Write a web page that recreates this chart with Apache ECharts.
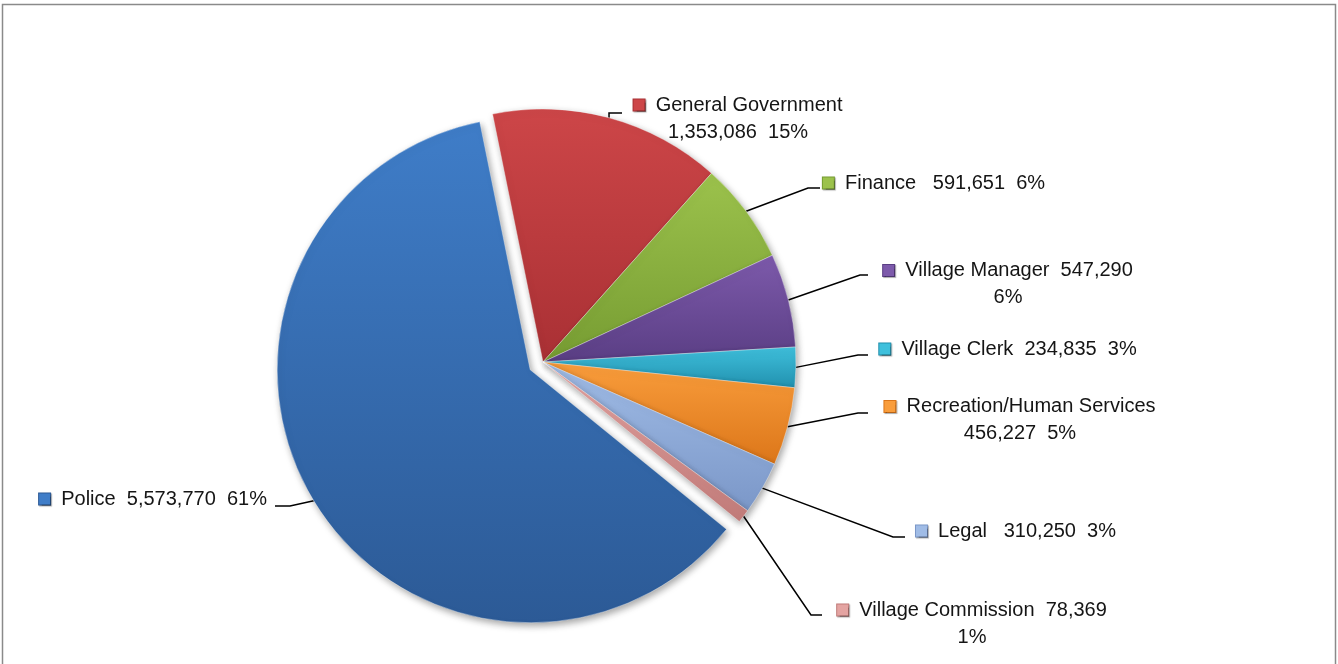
<!DOCTYPE html>
<html>
<head>
<meta charset="utf-8">
<title>General Fund Expenditures by Department</title>
<script src="https://cdn.jsdelivr.net/npm/echarts@6/dist/echarts.min.js"></script>
<style>
  html, body { margin: 0; padding: 0; background: #ffffff; }
  #chart { width: 1338px; height: 664px; }
</style>
</head>
<body>
<div id="chart"></div>
<script>
// Departments, clockwise from the first slice
const departments = [
  'General Government', 'Finance', 'Village Manager', 'Village Clerk',
  'Recreation/Human Services', 'Legal', 'Village Commission', 'Police'
];
const budgets = [1353086, 591651, 547290, 234835, 456227, 310250, 78369, 5573770];

// Which slice is pulled out of the pie
const explodedIndex = 7;

// ---- styling ----
const palette = [
  ['#cd4648', '#a93034'],
  ['#9cc24c', '#769c32'],
  ['#7d5aab', '#5a3e84'],
  ['#3fc0dc', '#2190ae'],
  ['#f99d3c', '#dc7619'],
  ['#a0bce6', '#7b97c8'],
  ['#e4a4a2', '#c17b79'],
  ['#3f7dc8', '#2c5a96']
];
// text layout of each label: 'n|vp' name / value pct, 'nv|p' name value / pct, 'one' single line
const labelBreaks = ['n|vp', 'one', 'nv|p', 'one', 'n|vp', 'one', 'nv|p', 'one'];
const nameGap = ['  ', '   ', '  ', '  ', '  ', '   ', '  ', '  '];
// label placement: [centre x, middle y, elbow x, elbow y, line end x]
const labelSpots = [
  [738, 118.5, 609, 113, 622],
  [934, 183, 808, 188, 820],
  [1008, 284, 860, 275, 868],
  [1008, 349, 858, 355, 868],
  [1020, 420, 858, 413, 868],
  [1016, 531, 893, 537, 905],
  [972, 623.5, 811, 615, 822],
  [153, 499, 290, 506, 275]
];

const CX = 543, CY = 362, R = 253;
const START = -11.5;          // degrees clockwise from 12 o'clock
const EXPLODE = 15;           // px

const total = budgets.reduce((a, b) => a + b, 0);
const midAngles = [];
{
  let acc = 0;
  budgets.forEach(v => {
    midAngles.push((START + (acc + v / 2) / total * 360) * Math.PI / 180);
    acc += v;
  });
}
const exDx = Math.sin(midAngles[explodedIndex]) * EXPLODE;
const exDy = -Math.cos(midAngles[explodedIndex]) * EXPLODE;

const fmt = n => n.toLocaleString('en-US');

const rich = {};
palette.forEach((c, i) => {
  rich['s' + i] = {
    width: 11, height: 11,
    backgroundColor: c[0],
    borderColor: c[1], borderWidth: 1,
    shadowColor: 'rgba(0,0,0,0.3)', shadowBlur: 1, shadowOffsetX: 1, shadowOffsetY: 1
  };
});

function labelText(p) {
  const i = p.dataIndex;
  const pct = Math.round(p.percent) + '%';
  const sq = '{s' + i + '|}  ';
  const v = fmt(p.value);
  switch (labelBreaks[i]) {
    case 'n|vp': return sq + p.name + '\n' + v + '  ' + pct;
    case 'nv|p': return sq + p.name + nameGap[i] + v + '\n' + pct;
    default: return sq + p.name + nameGap[i] + v + '  ' + pct;
  }
}

function layoutLabel(p, shifted) {
  const i = p.dataIndex;
  const s = labelSpots[i];
  const a = midAngles[i];
  const sx = CX + R * Math.sin(a) + (shifted ? exDx : 0);
  const sy = CY - R * Math.cos(a) + (shifted ? exDy : 0);
  return {
    x: s[0], y: s[1], align: 'center', verticalAlign: 'middle',
    labelLinePoints: [[sx, sy], [s[2], s[3]], [s[4], s[3]]]
  };
}

function sliceData(showIdx) {
  return departments.map((name, i) => {
    const visible = showIdx(i);
    const c = palette[i];
    return {
      name, value: budgets[i],
      itemStyle: visible ? {
        color: { type: 'linear', x: 0, y: 0, x2: 0, y2: 1,
          colorStops: [{ offset: 0, color: c[0] }, { offset: 1, color: c[1] }] },
        borderColor: 'rgba(255,255,255,0.35)', borderWidth: 1,
        shadowBlur: 7, shadowOffsetX: 2, shadowOffsetY: 3, shadowColor: 'rgba(0,0,0,0.35)'
      } : { color: 'rgba(0,0,0,0)', borderWidth: 0, shadowBlur: 0, shadowColor: 'rgba(0,0,0,0)' },
      label: { show: visible },
      labelLine: { show: visible }
    };
  });
}

const baseSeries = {
  type: 'pie',
  radius: R,
  startAngle: 90 - START,
  clockwise: true,
  avoidLabelOverlap: false,
  silent: true,
  animation: false,
  label: {
    position: 'outside',
    formatter: labelText,
    fontFamily: "'Liberation Sans Narrow', 'Arial Narrow', 'Liberation Sans', sans-serif",
    fontSize: 20,
    lineHeight: 27,
    color: '#151515',
    rich
  },
  labelLine: { show: true, lineStyle: { color: '#000000', width: 1.5 } },
  emphasis: { disabled: true }
};

const chart = echarts.init(document.getElementById('chart'), null, { renderer: 'canvas' });
chart.setOption({
  backgroundColor: '#ffffff',
  animation: false,
  graphic: [{
    type: 'rect', silent: true, z: -10,
    shape: { x: 2.5, y: 4.5, width: 1333, height: 720 },
    style: { fill: 'none', stroke: '#8a8a8a', lineWidth: 1.5 }
  }],
  series: [
    Object.assign({}, baseSeries, {
      center: [CX, CY],
      data: sliceData(i => i !== explodedIndex),
      labelLayout: p => layoutLabel(p, false)
    }),
    Object.assign({}, baseSeries, {
      center: [CX + exDx, CY + exDy],
      data: sliceData(i => i === explodedIndex),
      labelLayout: p => layoutLabel(p, true)
    })
  ]
});
</script>
</body>
</html>
